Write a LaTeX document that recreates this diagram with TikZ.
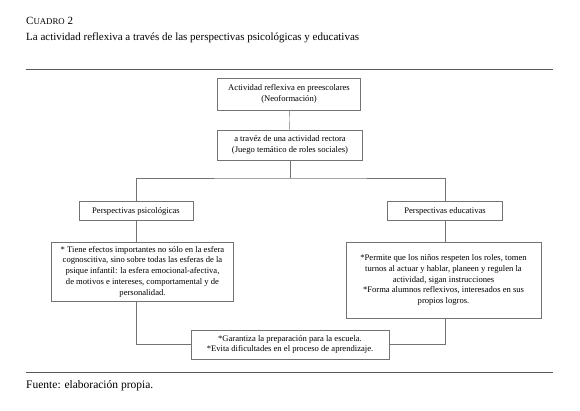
\documentclass[tikz,border=0pt]{standalone}
\usepackage{fontspec}
\setmainfont{Liberation Serif}
\usepackage{tikz}
\usepackage{xcolor}
\definecolor{boxgray}{gray}{0.45}
\definecolor{rulegray}{gray}{0.35}
\tikzset{
    flow-box/.style = {draw=boxgray, fill=white, thin, rectangle, inner sep=2pt, align=center, font=\fontsize{8.6}{10.8}\selectfont},
    flow-line/.style = {draw=boxgray, thin},
    caption-text/.style = {anchor=west, inner sep=0pt, text=black},
}

\begin{document}
\begin{tikzpicture}[x=1pt,y=-1pt]
\useasboundingbox (0,0) rectangle (580,410);
% titulo
\node[caption-text, font=\fontsize{11}{12}\selectfont] (num) at (26,21) {C{\fontsize{8.8}{10}\selectfont UADRO} 2};
\node[caption-text, font=\fontsize{11}{12}\selectfont] (title) at (26,38) {La actividad reflexiva a través de las perspectivas psicológicas y educativas};
\draw[rulegray, line width=0.8pt] (26,69) -- (553,69);

% cajas
\node[flow-box, minimum width=143pt, minimum height=32pt] (reflexiva) at (289,94) {Actividad reflexiva en preescolares\\(Neoformación)};
\node[flow-box, minimum width=145pt, minimum height=30pt] (rectora) at (290,145) {a travéz de una actividad rectora\\(Juego temático de roles sociales)};
\node[flow-box, minimum width=114pt, minimum height=19pt] (psico) at (136,211) {Perspectivas psicológicas};
\node[flow-box, minimum width=115pt, minimum height=19pt] (educa) at (445,211) {Perspectivas educativas};
\node[flow-box, minimum width=182pt, minimum height=59pt] (efectos) at (142.5,271.5) {* Tiene efectos importantes no sólo en la esfera\\cognoscitiva, sino sobre todas las esferas de la\\psique infantil: la esfera emocional-afectiva,\\de motivos e intereses, comportamental y de\\personalidad.};
\node[flow-box, minimum width=195pt, minimum height=76pt] (permite) at (443.5,280) {*Permite que los niños respeten los roles, tomen\\turnos al actuar y hablar, planeen y regulen la\\actividad, sigan instrucciones\\*Forma alumnos reflexivos, interesados en sus\\propios logros.};
\node[flow-box, minimum width=198pt, minimum height=29pt] (garantiza) at (290,344.5) {*Garantiza la preparación para la escuela.\\*Evita dificultades en el proceso de aprendizaje.};

% conectores
\coordinate (split) at (290,178);
\draw[flow-line] (reflexiva) -- (rectora);
\draw[flow-line] (rectora.south) -- (split);
\draw[flow-line] (psico.north) |- (split) -| (educa.north);
\draw[flow-line] (psico.south) -- (psico.south |- efectos.north);
\draw[flow-line] (educa.south) -- (educa.south |- permite.north);
\draw[flow-line] (psico.south |- efectos.south) |- (garantiza.west);
\draw[flow-line] (educa.south |- permite.south) |- (garantiza.east);

% fuente
\draw[rulegray, line width=0.8pt] (26,372) -- (553,372);
\node[caption-text, font=\fontsize{11.5}{12}\selectfont] (fuente) at (26,386) {Fuente: elaboración propia.};
\end{tikzpicture}
\end{document}
